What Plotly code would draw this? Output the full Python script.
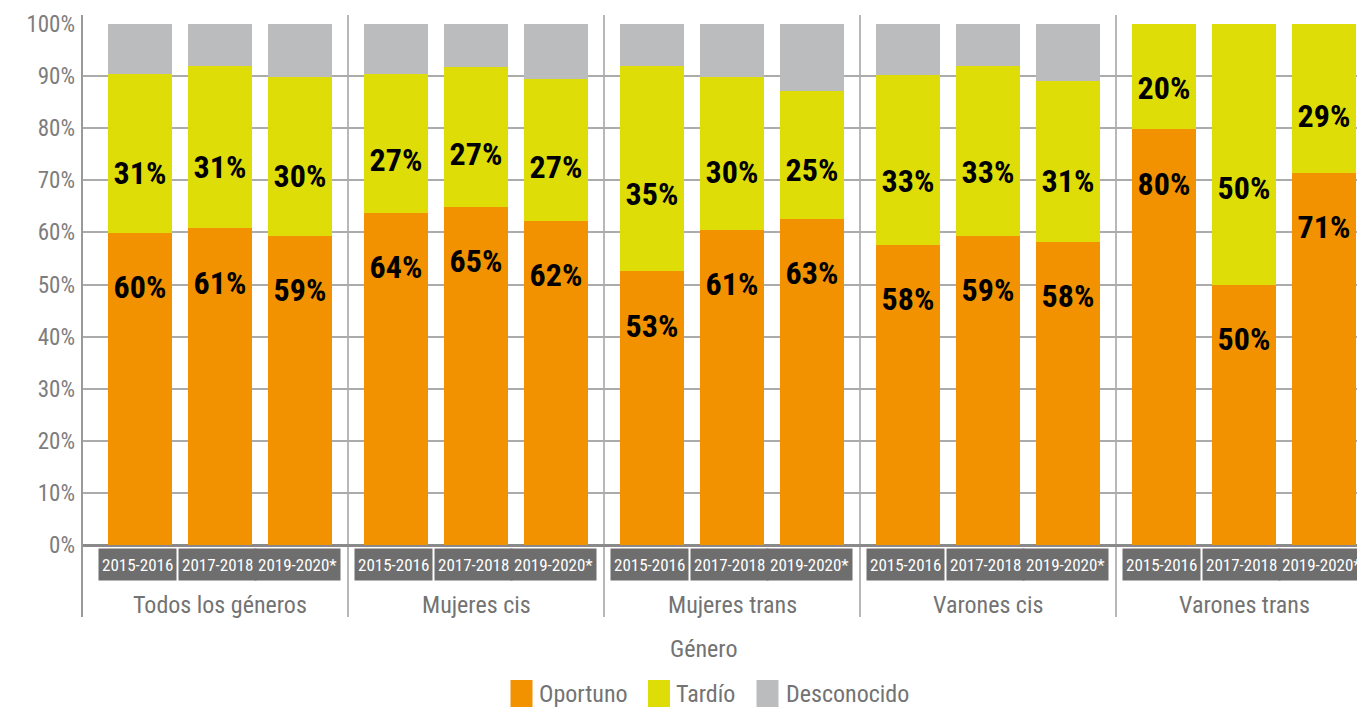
import plotly.graph_objects as go

# ---------------- data ----------------
groups = ["Todos los géneros", "Mujeres cis", "Mujeres trans", "Varones cis", "Varones trans"]
periods = ["2015-2016", "2017-2018", "2019-2020*"]

oportuno = [59.9, 60.8, 59.4, 63.8, 64.9, 62.2, 52.5, 60.5, 62.6, 57.6, 59.3, 58.2, 79.8, 49.9, 71.4]
tardio = [30.6, 31.2, 30.4, 26.6, 26.8, 27.2, 39.5, 29.3, 24.5, 32.6, 32.6, 30.9, 20.2, 50.1, 28.6]
desconocido = [9.5, 8.0, 10.2, 9.6, 8.3, 10.6, 8.0, 10.2, 12.9, 9.8, 8.1, 10.9, 0.0, 0.0, 0.0]

oportuno_labels = ["60%", "61%", "59%", "64%", "65%", "62%", "53%", "61%", "63%",
                   "58%", "59%", "58%", "80%", "50%", "71%"]
tardio_labels = ["31%", "31%", "30%", "27%", "27%", "27%", "35%", "30%", "25%",
                 "33%", "33%", "31%", "20%", "50%", "29%"]

series_names = ["Oportuno", "Tardío", "Desconocido"]
y_ticks = [0, 10, 20, 30, 40, 50, 60, 70, 80, 90, 100]
axis_title = "Género"

# ---------------- style ----------------
C_OR = "#f39200"
C_YE = "#dfdd07"
C_GR = "#bbbcbe"
C_TXT = "#737373"
FONT = "Roboto Condensed, Roboto, sans-serif"

W, H = 1357, 707
ML, MT, MB, MR = 82, 24, 162, 0
PW = W - ML - MR
PH = H - MT - MB

GP = 3.2  # group pitch in bar units
xpos = [g * GP + i for g in range(len(groups)) for i in range(len(periods))]
x_lo = -0.725
x_hi = x_lo + PW / 80.0


def py(pix):
    """pixel y (from top) -> paper y"""
    return (H - MB - pix) / PH


def px(pix):
    return (pix - ML) / PW


fig = go.Figure()
for name, vals, col in zip(series_names, [oportuno, tardio, desconocido], [C_OR, C_YE, C_GR]):
    fig.add_trace(go.Bar(x=xpos, y=vals, name=name, marker=dict(color=col, line=dict(width=0)),
                         width=0.8, showlegend=False, hoverinfo="skip"))

# value labels
lab_font = dict(family=FONT, size=32, color="#000000", weight="bold")
fig.add_trace(go.Scatter(x=xpos, y=[o - 11 for o in oportuno], mode="text", text=oportuno_labels,
                         textfont=lab_font, showlegend=False, hoverinfo="skip"))
fig.add_trace(go.Scatter(x=xpos, y=[o + 0.36 * t for o, t in zip(oportuno, tardio)], mode="text",
                         text=tardio_labels, textfont=lab_font, showlegend=False, hoverinfo="skip"))

shapes = []
annotations = []

# left axis line and group separators
top_p, bot_p = py(15), py(617)
shapes.append(dict(type="line", xref="paper", yref="paper", x0=0, x1=0, y0=bot_p, y1=top_p,
                   line=dict(color="#9a9a9a", width=2), layer="above"))
for g in range(len(groups) - 1):
    xs = g * GP + 2 + (GP - 2) / 2
    shapes.append(dict(type="line", xref="x", yref="paper", x0=xs, x1=xs, y0=bot_p, y1=top_p,
                       line=dict(color="#a0a0a0", width=1.5), layer="below"))

# period boxes
for k, x in enumerate(xpos):
    annotations.append(dict(x=x - 0.03, y=py(564.5), xref="x", yref="paper", text=periods[k % 3],
                            showarrow=False, bgcolor="#6e6e6e", borderpad=3, height=25,
                            font=dict(family=FONT, size=17, color="#ffffff"),
                            xanchor="center", yanchor="middle"))

# group labels
for g, name in enumerate(groups):
    annotations.append(dict(x=g * GP + 1, y=py(605), xref="x", yref="paper", text=name,
                            showarrow=False, font=dict(family=FONT, size=24, color=C_TXT),
                            xanchor="center", yanchor="middle"))

annotations.append(dict(x=px(703), y=py(649), xref="paper", yref="paper", text=axis_title,
                        showarrow=False, font=dict(family=FONT, size=24, color=C_TXT),
                        xanchor="center", yanchor="middle"))

# custom legend
leg = [(510.5, 532.5, 539, C_OR), (648, 670, 676, C_YE), (756.5, 778.5, 786, C_GR)]
for (x0, x1, xt, col), name in zip(leg, series_names):
    shapes.append(dict(type="rect", xref="paper", yref="paper", x0=px(x0), x1=px(x1),
                       y0=py(707), y1=py(680), fillcolor=col, line=dict(width=0)))
    annotations.append(dict(x=px(xt - 2), y=py(694), xref="paper", yref="paper", text=name,
                            showarrow=False, font=dict(family=FONT, size=24, color=C_TXT),
                            xanchor="left", yanchor="middle"))

fig.update_layout(
    width=W, height=H,
    margin=dict(l=ML, r=MR, t=MT, b=MB, pad=0),
    paper_bgcolor="white", plot_bgcolor="white",
    barmode="stack", bargap=0,
    shapes=shapes, annotations=annotations,
    font=dict(family=FONT, color=C_TXT),
    xaxis=dict(range=[x_lo, x_hi], showticklabels=False, showgrid=False, zeroline=False,
               showline=False, ticks="", fixedrange=True),
    yaxis=dict(range=[0, 100], tickvals=y_ticks, ticktext=[f"{v}%" for v in y_ticks],
               showgrid=True, gridcolor="#ababab", gridwidth=1.5,
               zeroline=True, zerolinecolor="#8a8a8a", zerolinewidth=2.5,
               showline=False, ticks="", ticklabelstandoff=6,
               tickfont=dict(family=FONT, size=23, color="#7d7d7d"), fixedrange=True),
)

fig.write_html("out.html", config={"displayModeBar": False},
               post_script="document.body.style.margin='0';document.body.style.overflow='hidden';")
